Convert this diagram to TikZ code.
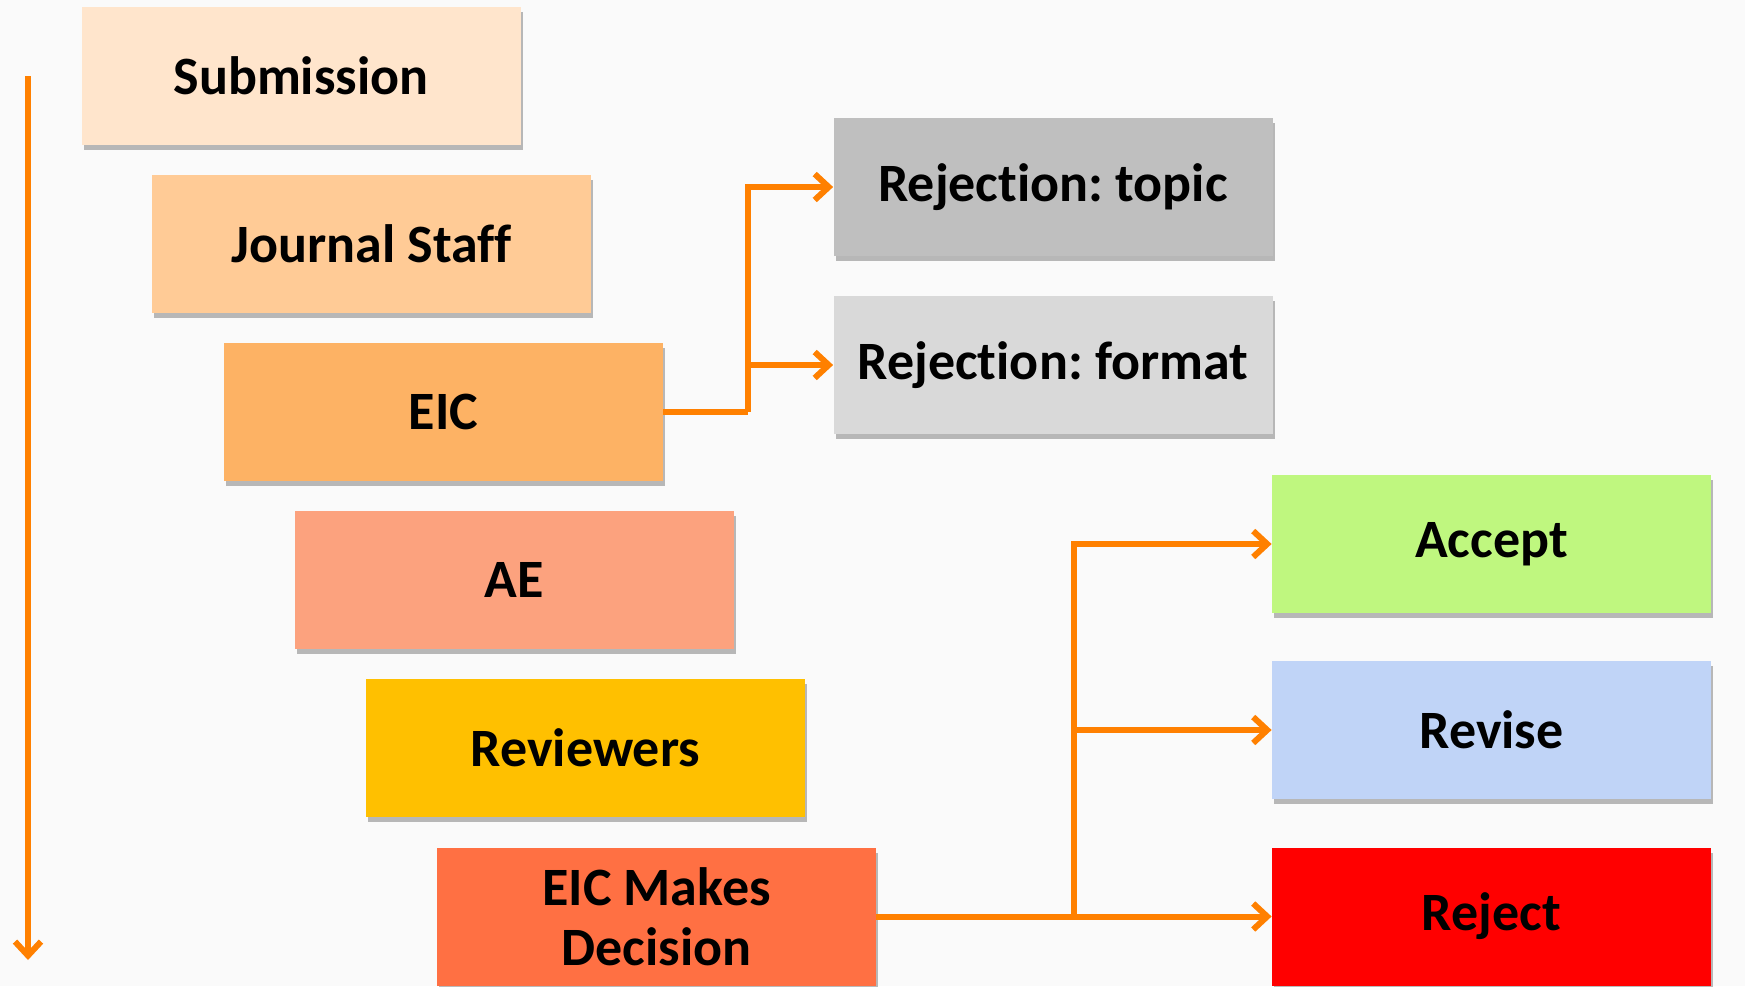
\documentclass[tikz,border=0pt]{standalone}
\usepackage{fontspec}
\setmainfont{Carlito}[Ligatures={NoCommon,TeX}]
\frenchspacing
\usetikzlibrary{arrows.meta,shadows}
\definecolor{bgc}{HTML}{FAFAFA}
\definecolor{arr}{HTML}{FF8000}
\definecolor{cSub}{HTML}{FFE5CC}
\definecolor{cJS}{HTML}{FFCB96}
\definecolor{cEIC}{HTML}{FDB264}
\definecolor{cAE}{HTML}{FCA27E}
\definecolor{cRev}{HTML}{FFC000}
\definecolor{cDec}{HTML}{FF7043}
\definecolor{cRT}{HTML}{BFBFBF}
\definecolor{cRF}{HTML}{D9D9D9}
\definecolor{cAcc}{HTML}{BFF77F}
\definecolor{cRevise}{HTML}{C0D4F7}
\definecolor{cRej}{HTML}{FF0000}
\tikzset{
  box/.style={rectangle, minimum width=219.5pt, minimum height=69pt, inner sep=0pt,
    align=center, font=\fontsize{27}{30}\selectfont\bfseries,
    drop shadow={shadow xshift=1.2pt, shadow yshift=-2.5pt, opacity=0.45, fill=black!60}},
  conn/.style={draw=arr, line width=3pt, -{Straight Barb[length=7pt,width=13pt,line width=3pt]}},
  plain/.style={draw=arr, line width=3pt}
}
\begin{document}
\begin{tikzpicture}[x=0.5pt,y=-0.5pt]
\fill[bgc] (0,0) rectangle (1745,986);
\useasboundingbox (0,0) rectangle (1745,986);
\node[box, fill=cSub] (sub) at (301,76) {Submission};
\node[box, fill=cJS] (js) at (371.5,243.5) {Journal Staff};
\node[box, fill=cEIC] (eic) at (443.5,412) {EIC};
\node[box, fill=cAE] (ae) at (514,580) {AE};
\node[box, fill=cRev] (rev) at (585.5,748) {Reviewers};
\node[box, fill=cDec] (dec) at (656.5,916.5) {EIC Makes\\Decision};
\node[box, fill=cRT] (rt) at (1053,187) {Rejection: topic};
\node[box, fill=cRF] (rf) at (1053,365) {Rejection: format};
\node[box, fill=cAcc] (acc) at (1491.5,544) {Accept};
\node[box, fill=cRevise] (revise) at (1491.5,730) {Revise};
\node[box, fill=cRej] (rej) at (1491.5,916.5) {Reject};
\coordinate (ts) at (28,76);
\coordinate (te) at (28,960);
\draw[conn] (ts) -- (te);
\coordinate (j1) at (748,412);
\draw[plain] (eic.east) -- (j1);
\draw[conn] (j1) |- (rt.west);
\draw[conn] (j1) |- (rf.west);
\coordinate (j2) at (1074,916.5);
\draw[plain] (dec.east) -- (j2);
\draw[conn] (j2) |- (acc.west);
\draw[conn] (j2) |- (revise.west);
\draw[conn] (j2) -- (rej.west);
\end{tikzpicture}
\end{document}
